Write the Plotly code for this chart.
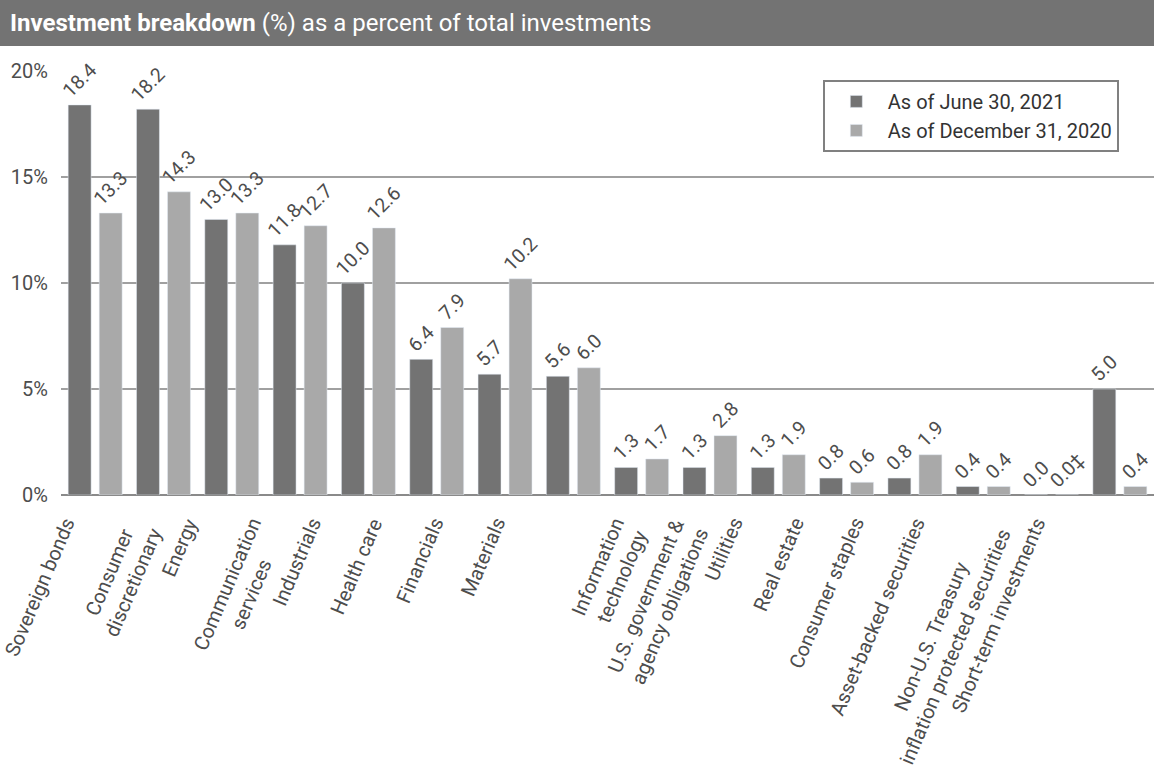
import plotly.graph_objects as go

# ---------------- data ----------------
categories = [
    "Sovereign bonds",
    "Consumer<br>discretionary",
    "Energy",
    "Communication<br>services",
    "Industrials",
    "Health care",
    "Financials",
    "Materials",
    "Information<br>technology",
    "U.S. government &<br>agency obligations",
    "Utilities",
    "Real estate",
    "Consumer staples",
    "Asset-backed securities",
    "Non-U.S. Treasury<br>inflation protected securities",
    "Short-term investments",
]
june_2021 = [18.4, 18.2, 13.0, 11.8, 10.0, 6.4, 5.7, 5.6, 1.3, 1.3, 1.3, 0.8, 0.8, 0.4, 0.0, 5.0]
dec_2020 = [13.3, 14.3, 13.3, 12.7, 12.6, 7.9, 10.2, 6.0, 1.7, 2.8, 1.9, 0.6, 1.9, 0.4, 0.0, 0.4]
dec_2020_notes = ["", "", "", "", "", "", "", "", "", "", "", "", "", "", "‡", ""]
series_names = ["As of June 30, 2021", "As of December 31, 2020"]
y_ticks = [0, 5, 10, 15, 20]
y_tick_labels = [f"{v}%" for v in y_ticks]
title_bold = "Investment breakdown"
title_rest = " (%) as a percent of total investments"

# ---------------- style ----------------
FONT = "Roboto, sans-serif"
DARK = "#737373"
LIGHT = "#a9a9a9"
TEXT = "#4d4d4d"

fig = go.Figure()
fig.add_bar(
    x=categories, y=june_2021, name=series_names[0], marker_color=DARK,
    text=[f"{v:.1f}" for v in june_2021],
    textposition="outside", textangle=-45, constraintext="none", cliponaxis=False,
    textfont=dict(size=19.5, color=TEXT, family=FONT),
)
fig.add_bar(
    x=categories, y=dec_2020, name=series_names[1], marker_color=LIGHT,
    text=[f"{v:.1f}{n}" for v, n in zip(dec_2020, dec_2020_notes)],
    textposition="outside", textangle=-45, constraintext="none", cliponaxis=False,
    textfont=dict(size=19.5, color=TEXT, family=FONT),
)

# rotated category labels (annotations so multi-line labels are centred)
annotations = []
for i, cat in enumerate(categories):
    two_line = "<br>" in cat
    drift = (-20 - 6.8 * i) if i < 8 else (43 - 7.8 * i)
    shift = drift + 6 + (26 if two_line else 0)
    annotations.append(dict(
        x=cat, y=0, xref="x", yref="y", text=cat, showarrow=False,
        textangle=-67, xanchor="right", yanchor="top", align="center",
        xshift=shift, yshift=-18, borderpad=0,
        font=dict(size=20, color=TEXT, family=FONT),
    ))

fig.update_layout(
    width=1154, height=768,
    margin=dict(l=61, r=0, t=71, b=273),
    paper_bgcolor="white", plot_bgcolor="white",
    barmode="group", bargap=0.092, bargroupgap=0.26,
    font=dict(family=FONT, color=TEXT),
    title=dict(
        text=f"<b>{title_bold}</b>{title_rest}",
        x=10 / 1154, xref="container", xanchor="left",
        y=1 - 23 / 768, yref="container", yanchor="middle",
        font=dict(size=24, color="white", family=FONT),
    ),
    xaxis=dict(showticklabels=False, showgrid=False, range=[-0.5, 15.5], ticks=""),
    yaxis=dict(
        range=[0, 20], tickmode="array", tickvals=y_ticks, ticktext=y_tick_labels,
        showgrid=True, gridcolor="#a0a0a0", gridwidth=2,
        zeroline=True, zerolinecolor="#8a8a8a", zerolinewidth=2,
        tickfont=dict(size=20, color=TEXT, family=FONT),
        ticklabelstandoff=12, ticks="",
    ),
    legend=dict(
        x=0.697, y=0.979, xanchor="left", yanchor="top",
        bordercolor="#808080", borderwidth=2, bgcolor="white",
        font=dict(size=20, color="#333333", family=FONT),
        itemwidth=53, traceorder="normal",
    ),
    shapes=[dict(
        type="rect", xref="paper", yref="paper",
        x0=-0.1, x1=1.0, y0=1 + (71 - 46) / 424, y1=1.2,
        fillcolor="#737373", line=dict(width=0), layer="below",
    )],
    annotations=annotations,
    showlegend=True,
)

fig.write_html("out.html")
